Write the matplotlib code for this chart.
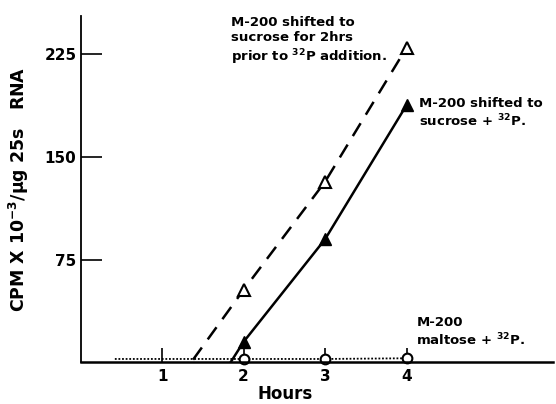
import numpy as np
import matplotlib.pyplot as plt

plt.rcParams['font.family'] = ['DejaVu Sans']
plt.rcParams['font.weight'] = 'bold'

# Data
hours = [2, 3, 4]
pre_shift = [53, 132, 230]      # open triangles, dashed
shifted = [15, 90, 188]         # filled triangles, solid
maltose = [2.5, 2.5, 3]         # open circles, dotted

# line extrapolations back to baseline
pre_start = (1.38, 2)
shifted_start = (1.84, 0)
maltose_start = (0.42, 2.5)

fig = plt.figure(figsize=(5.56, 4.04), dpi=100)
ax = fig.add_axes([0.145, 0.103, 0.85, 0.857])

ax.plot([pre_start[0]] + hours, [pre_start[1]] + pre_shift, color='black',
        lw=1.8, dashes=(6, 4))
ax.plot(hours, pre_shift, 'k^', mfc='white', mew=1.5, ms=8, ls='none')

ax.plot([shifted_start[0]] + hours, [shifted_start[1]] + shifted, color='black', lw=1.8)
ax.plot(hours, shifted, 'k^', ms=8, ls='none')

ax.plot([maltose_start[0]] + hours, [maltose_start[1]] + maltose, color='black',
        lw=1.3, dashes=(1, 1))
ax.plot(hours, maltose, 'ko', mfc='white', mew=1.5, ms=7, ls='none', clip_on=False)

ax.set_xlim(0, 5.8)
ax.set_ylim(0, 253)
ax.spines['top'].set_visible(False)
ax.spines['right'].set_visible(False)
ax.spines['left'].set_linewidth(1.3)
ax.spines['bottom'].set_linewidth(1.8)

ax.set_xticks([1, 2, 3, 4])
ax.set_yticks([75, 150, 225])
ax.tick_params(axis='both', direction='in', width=1.2, labelsize=11)
ax.tick_params(axis='x', length=10, pad=5)
ax.tick_params(axis='y', length=15, pad=3)

ax.set_xlabel('Hours', fontsize=12, fontweight='bold')
ax.xaxis.set_label_coords(0.432, -0.064)
ax.set_ylabel('CPM X 10$^{\\mathbf{-3}}$/µg 25s   RNA', fontsize=12.5,
              fontweight='bold')
ax.yaxis.set_label_coords(-0.104, 0.5)

ax.text(1.85, 253, 'M-200 shifted to\nsucrose for 2hrs\nprior to $^{\\mathbf{32}}$P addition.',
        fontsize=9.5, fontweight='bold', va='top', linespacing=1.2)
ax.text(4.15, 194, 'M-200 shifted to\nsucrose + $^{\\mathbf{32}}$P.',
        fontsize=9.5, fontweight='bold', va='top', linespacing=1.2)
ax.text(4.12, 34, 'M-200\nmaltose + $^{\\mathbf{32}}$P.',
        fontsize=9.5, fontweight='bold', va='top', linespacing=1.2)

fig.savefig('out.png', dpi=100)
